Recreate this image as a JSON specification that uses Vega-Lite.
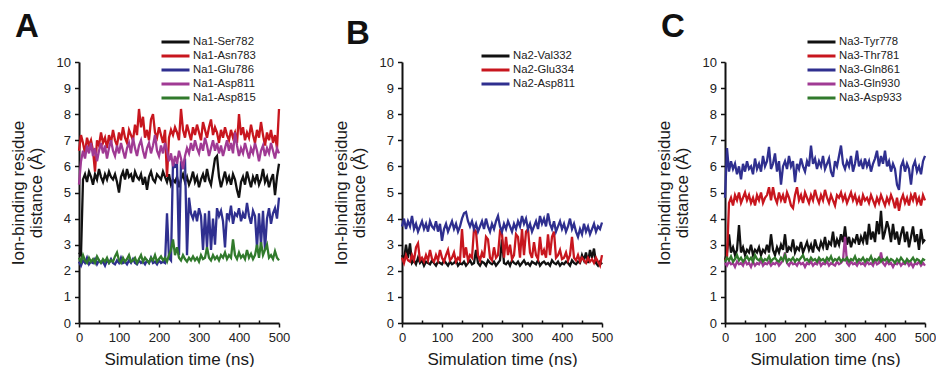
{
"$schema":"https://vega.github.io/schema/vega-lite/v6.json",
"background":"white",
"padding":{"left":9,"top":11,"right":0,"bottom":0},
"config":{"font":"Liberation Sans","view":{"stroke":null},
"axis":{"domainColor":"#111111","domainWidth":2,"tickColor":"#111111","tickWidth":1.5,"labelColor":"#222222","labelFont":"Liberation Sans","labelFontSize":13,"labelPadding":4,"titleFont":"Liberation Sans","titleFontSize":17,"titleFontWeight":"normal","titleColor":"#1a1a1a","grid":false},
"legend":{"orient":"none","title":null,"symbolType":"stroke","symbolSize":784,"symbolStrokeWidth":3,"labelFont":"Liberation Sans","labelFontSize":11.3,"labelColor":"#222222","labelOffset":2,"clipHeight":14,"rowPadding":0,"symbolOpacity":1}},
"datasets":{
"a1":[{"t":0,"d":2.7},{"t":5,"d":2.6},{"t":10,"d":5.5},{"t":15,"d":5.7},{"t":20,"d":5.4},{"t":25,"d":5.8},{"t":30,"d":5.6},{"t":35,"d":5.3},{"t":40,"d":5.7},{"t":45,"d":5.5},{"t":50,"d":5.9},{"t":55,"d":5.6},{"t":60,"d":5.4},{"t":65,"d":5.7},{"t":70,"d":5.5},{"t":75,"d":5.8},{"t":80,"d":5.6},{"t":85,"d":5.5},{"t":90,"d":5.7},{"t":95,"d":5.4},{"t":100,"d":5.0},{"t":105,"d":5.6},{"t":110,"d":5.8},{"t":115,"d":5.5},{"t":120,"d":5.9},{"t":125,"d":5.6},{"t":130,"d":5.7},{"t":135,"d":5.4},{"t":140,"d":5.8},{"t":145,"d":5.6},{"t":150,"d":5.5},{"t":155,"d":5.7},{"t":160,"d":5.3},{"t":165,"d":5.6},{"t":170,"d":5.1},{"t":175,"d":5.6},{"t":180,"d":5.8},{"t":185,"d":5.5},{"t":190,"d":5.4},{"t":195,"d":5.7},{"t":200,"d":5.6},{"t":205,"d":5.5},{"t":210,"d":5.8},{"t":215,"d":5.6},{"t":220,"d":5.4},{"t":225,"d":5.7},{"t":230,"d":5.3},{"t":235,"d":5.5},{"t":240,"d":5.4},{"t":245,"d":5.6},{"t":250,"d":5.2},{"t":255,"d":5.5},{"t":260,"d":5.7},{"t":265,"d":5.4},{"t":270,"d":5.6},{"t":275,"d":5.3},{"t":280,"d":5.5},{"t":285,"d":5.8},{"t":290,"d":5.4},{"t":295,"d":5.6},{"t":300,"d":5.2},{"t":305,"d":5.5},{"t":310,"d":5.7},{"t":315,"d":5.4},{"t":320,"d":5.9},{"t":325,"d":5.5},{"t":330,"d":5.3},{"t":335,"d":5.8},{"t":340,"d":6.3},{"t":345,"d":6.4},{"t":350,"d":5.6},{"t":355,"d":5.2},{"t":360,"d":5.5},{"t":365,"d":5.8},{"t":370,"d":5.4},{"t":375,"d":5.6},{"t":380,"d":5.3},{"t":385,"d":5.7},{"t":390,"d":5.5},{"t":395,"d":5.1},{"t":400,"d":4.8},{"t":405,"d":5.4},{"t":410,"d":5.6},{"t":415,"d":5.3},{"t":420,"d":5.8},{"t":425,"d":5.5},{"t":430,"d":5.2},{"t":435,"d":5.6},{"t":440,"d":5.4},{"t":445,"d":5.7},{"t":450,"d":5.3},{"t":455,"d":5.5},{"t":460,"d":5.9},{"t":465,"d":5.4},{"t":470,"d":5.6},{"t":475,"d":5.2},{"t":480,"d":5.5},{"t":485,"d":5.7},{"t":490,"d":4.9},{"t":495,"d":5.6},{"t":500,"d":6.1}],
"a2":[{"t":0,"d":6.6},{"t":5,"d":7.2},{"t":10,"d":6.9},{"t":15,"d":6.5},{"t":20,"d":7.1},{"t":25,"d":6.8},{"t":30,"d":7.0},{"t":35,"d":6.6},{"t":40,"d":5.8},{"t":45,"d":7.0},{"t":50,"d":6.8},{"t":55,"d":7.3},{"t":60,"d":6.9},{"t":65,"d":7.1},{"t":70,"d":6.7},{"t":75,"d":7.2},{"t":80,"d":6.9},{"t":85,"d":7.4},{"t":90,"d":7.0},{"t":95,"d":6.8},{"t":100,"d":7.3},{"t":105,"d":7.0},{"t":110,"d":7.5},{"t":115,"d":7.1},{"t":120,"d":6.9},{"t":125,"d":7.4},{"t":130,"d":7.2},{"t":135,"d":7.0},{"t":140,"d":7.6},{"t":145,"d":7.2},{"t":150,"d":8.2},{"t":155,"d":7.5},{"t":160,"d":7.9},{"t":165,"d":7.1},{"t":170,"d":7.4},{"t":175,"d":7.0},{"t":180,"d":7.8},{"t":185,"d":8.0},{"t":190,"d":7.3},{"t":195,"d":7.1},{"t":200,"d":7.5},{"t":205,"d":7.2},{"t":210,"d":6.9},{"t":215,"d":7.4},{"t":220,"d":5.6},{"t":225,"d":7.1},{"t":230,"d":7.4},{"t":235,"d":7.2},{"t":240,"d":7.5},{"t":245,"d":7.3},{"t":250,"d":7.0},{"t":255,"d":8.2},{"t":260,"d":7.4},{"t":265,"d":7.1},{"t":270,"d":7.6},{"t":275,"d":7.3},{"t":280,"d":7.0},{"t":285,"d":7.5},{"t":290,"d":7.2},{"t":295,"d":7.6},{"t":300,"d":7.3},{"t":305,"d":7.0},{"t":310,"d":7.7},{"t":315,"d":7.4},{"t":320,"d":7.1},{"t":325,"d":7.5},{"t":330,"d":7.8},{"t":335,"d":7.2},{"t":340,"d":7.5},{"t":345,"d":7.3},{"t":350,"d":6.9},{"t":355,"d":7.4},{"t":360,"d":7.1},{"t":365,"d":7.5},{"t":370,"d":7.2},{"t":375,"d":7.0},{"t":380,"d":7.4},{"t":385,"d":7.1},{"t":390,"d":7.3},{"t":395,"d":6.9},{"t":400,"d":8.0},{"t":405,"d":7.2},{"t":410,"d":7.5},{"t":415,"d":7.0},{"t":420,"d":7.3},{"t":425,"d":7.1},{"t":430,"d":7.6},{"t":435,"d":7.2},{"t":440,"d":6.9},{"t":445,"d":7.4},{"t":450,"d":7.1},{"t":455,"d":7.7},{"t":460,"d":7.2},{"t":465,"d":6.8},{"t":470,"d":7.3},{"t":475,"d":7.0},{"t":480,"d":7.4},{"t":485,"d":6.9},{"t":490,"d":7.2},{"t":495,"d":6.7},{"t":500,"d":8.2}],
"a3":[{"t":0,"d":2.35},{"t":5,"d":2.2},{"t":10,"d":2.4},{"t":15,"d":2.3},{"t":20,"d":2.5},{"t":25,"d":2.25},{"t":30,"d":2.35},{"t":35,"d":2.3},{"t":40,"d":2.45},{"t":45,"d":2.25},{"t":50,"d":2.4},{"t":55,"d":2.3},{"t":60,"d":2.35},{"t":65,"d":2.2},{"t":70,"d":2.4},{"t":75,"d":2.3},{"t":80,"d":2.45},{"t":85,"d":2.3},{"t":90,"d":2.25},{"t":95,"d":2.4},{"t":100,"d":2.3},{"t":105,"d":2.5},{"t":110,"d":2.3},{"t":115,"d":2.35},{"t":120,"d":2.25},{"t":125,"d":2.4},{"t":130,"d":2.3},{"t":135,"d":2.45},{"t":140,"d":2.3},{"t":145,"d":2.25},{"t":150,"d":2.4},{"t":155,"d":2.3},{"t":160,"d":2.35},{"t":165,"d":2.25},{"t":170,"d":2.4},{"t":175,"d":2.3},{"t":180,"d":2.5},{"t":185,"d":2.3},{"t":190,"d":2.35},{"t":195,"d":2.25},{"t":200,"d":2.4},{"t":205,"d":2.3},{"t":210,"d":2.35},{"t":215,"d":2.3},{"t":220,"d":4.2},{"t":225,"d":2.5},{"t":230,"d":2.4},{"t":235,"d":6.2},{"t":240,"d":6.0},{"t":245,"d":6.1},{"t":250,"d":2.6},{"t":255,"d":6.2},{"t":260,"d":5.9},{"t":265,"d":6.3},{"t":270,"d":2.6},{"t":275,"d":4.8},{"t":280,"d":4.2},{"t":285,"d":4.0},{"t":290,"d":4.3},{"t":295,"d":3.9},{"t":300,"d":4.4},{"t":305,"d":4.1},{"t":310,"d":2.8},{"t":315,"d":4.2},{"t":320,"d":2.9},{"t":325,"d":4.3},{"t":330,"d":2.8},{"t":335,"d":4.0},{"t":340,"d":3.0},{"t":345,"d":4.4},{"t":350,"d":4.1},{"t":355,"d":4.3},{"t":360,"d":3.9},{"t":365,"d":2.9},{"t":370,"d":4.2},{"t":375,"d":4.0},{"t":380,"d":4.5},{"t":385,"d":3.8},{"t":390,"d":4.2},{"t":395,"d":4.1},{"t":400,"d":4.4},{"t":405,"d":3.9},{"t":410,"d":4.2},{"t":415,"d":4.0},{"t":420,"d":4.6},{"t":425,"d":4.1},{"t":430,"d":3.8},{"t":435,"d":4.3},{"t":440,"d":4.1},{"t":445,"d":2.9},{"t":450,"d":4.2},{"t":455,"d":3.0},{"t":460,"d":4.3},{"t":465,"d":2.8},{"t":470,"d":4.0},{"t":475,"d":4.4},{"t":480,"d":3.8},{"t":485,"d":4.2},{"t":490,"d":4.4},{"t":495,"d":4.0},{"t":500,"d":4.8}],
"a4":[{"t":0,"d":5.3},{"t":5,"d":6.2},{"t":10,"d":6.6},{"t":15,"d":6.3},{"t":20,"d":6.8},{"t":25,"d":6.5},{"t":30,"d":6.9},{"t":35,"d":6.4},{"t":40,"d":6.7},{"t":45,"d":6.2},{"t":50,"d":6.6},{"t":55,"d":6.9},{"t":60,"d":6.5},{"t":65,"d":6.8},{"t":70,"d":6.3},{"t":75,"d":6.7},{"t":80,"d":7.0},{"t":85,"d":6.6},{"t":90,"d":6.4},{"t":95,"d":6.8},{"t":100,"d":6.5},{"t":105,"d":6.9},{"t":110,"d":6.6},{"t":115,"d":6.3},{"t":120,"d":6.7},{"t":125,"d":6.9},{"t":130,"d":6.5},{"t":135,"d":7.1},{"t":140,"d":6.7},{"t":145,"d":6.4},{"t":150,"d":6.8},{"t":155,"d":7.0},{"t":160,"d":6.6},{"t":165,"d":6.3},{"t":170,"d":6.7},{"t":175,"d":6.9},{"t":180,"d":6.5},{"t":185,"d":6.8},{"t":190,"d":7.2},{"t":195,"d":6.6},{"t":200,"d":6.4},{"t":205,"d":6.8},{"t":210,"d":6.5},{"t":215,"d":6.9},{"t":220,"d":6.6},{"t":225,"d":6.2},{"t":230,"d":6.5},{"t":235,"d":6.0},{"t":240,"d":6.4},{"t":245,"d":6.1},{"t":250,"d":6.6},{"t":255,"d":6.3},{"t":260,"d":5.9},{"t":265,"d":6.4},{"t":270,"d":6.7},{"t":275,"d":6.5},{"t":280,"d":6.9},{"t":285,"d":6.6},{"t":290,"d":7.0},{"t":295,"d":6.7},{"t":300,"d":6.5},{"t":305,"d":6.9},{"t":310,"d":6.6},{"t":315,"d":7.1},{"t":320,"d":6.8},{"t":325,"d":6.4},{"t":330,"d":6.7},{"t":335,"d":7.0},{"t":340,"d":6.6},{"t":345,"d":6.9},{"t":350,"d":6.5},{"t":355,"d":6.8},{"t":360,"d":6.4},{"t":365,"d":6.7},{"t":370,"d":7.0},{"t":375,"d":6.6},{"t":380,"d":6.9},{"t":385,"d":6.5},{"t":390,"d":7.3},{"t":395,"d":6.8},{"t":400,"d":6.4},{"t":405,"d":6.7},{"t":410,"d":6.5},{"t":415,"d":6.9},{"t":420,"d":6.6},{"t":425,"d":6.3},{"t":430,"d":6.7},{"t":435,"d":6.5},{"t":440,"d":6.9},{"t":445,"d":6.6},{"t":450,"d":6.2},{"t":455,"d":6.6},{"t":460,"d":6.8},{"t":465,"d":6.4},{"t":470,"d":6.7},{"t":475,"d":6.5},{"t":480,"d":6.9},{"t":485,"d":6.6},{"t":490,"d":6.3},{"t":495,"d":6.7},{"t":500,"d":6.5}],
"a5":[{"t":0,"d":2.5},{"t":5,"d":2.35},{"t":10,"d":2.6},{"t":15,"d":2.4},{"t":20,"d":2.3},{"t":25,"d":2.5},{"t":30,"d":2.35},{"t":35,"d":2.45},{"t":40,"d":2.3},{"t":45,"d":2.55},{"t":50,"d":2.4},{"t":55,"d":2.3},{"t":60,"d":2.45},{"t":65,"d":2.35},{"t":70,"d":2.5},{"t":75,"d":2.3},{"t":80,"d":2.4},{"t":85,"d":2.35},{"t":90,"d":2.55},{"t":95,"d":2.7},{"t":100,"d":2.4},{"t":105,"d":2.3},{"t":110,"d":2.5},{"t":115,"d":2.35},{"t":120,"d":2.45},{"t":125,"d":2.6},{"t":130,"d":2.35},{"t":135,"d":2.4},{"t":140,"d":2.5},{"t":145,"d":2.3},{"t":150,"d":2.45},{"t":155,"d":2.6},{"t":160,"d":2.35},{"t":165,"d":2.5},{"t":170,"d":2.4},{"t":175,"d":2.3},{"t":180,"d":2.5},{"t":185,"d":2.4},{"t":190,"d":2.6},{"t":195,"d":2.35},{"t":200,"d":2.45},{"t":205,"d":2.55},{"t":210,"d":2.4},{"t":215,"d":2.5},{"t":220,"d":2.35},{"t":225,"d":2.6},{"t":230,"d":2.8},{"t":235,"d":3.2},{"t":240,"d":2.6},{"t":245,"d":2.9},{"t":250,"d":2.5},{"t":255,"d":2.4},{"t":260,"d":2.6},{"t":265,"d":2.45},{"t":270,"d":2.35},{"t":275,"d":2.5},{"t":280,"d":2.4},{"t":285,"d":2.55},{"t":290,"d":2.4},{"t":295,"d":2.5},{"t":300,"d":2.35},{"t":305,"d":2.6},{"t":310,"d":2.45},{"t":315,"d":2.5},{"t":320,"d":2.9},{"t":325,"d":2.5},{"t":330,"d":2.4},{"t":335,"d":2.6},{"t":340,"d":2.45},{"t":345,"d":2.55},{"t":350,"d":2.4},{"t":355,"d":2.6},{"t":360,"d":2.5},{"t":365,"d":2.7},{"t":370,"d":2.45},{"t":375,"d":2.6},{"t":380,"d":2.5},{"t":385,"d":3.2},{"t":390,"d":2.6},{"t":395,"d":2.45},{"t":400,"d":2.7},{"t":405,"d":2.5},{"t":410,"d":2.6},{"t":415,"d":2.45},{"t":420,"d":2.8},{"t":425,"d":2.5},{"t":430,"d":2.65},{"t":435,"d":2.45},{"t":440,"d":2.6},{"t":445,"d":3.0},{"t":450,"d":2.5},{"t":455,"d":3.1},{"t":460,"d":2.6},{"t":465,"d":2.8},{"t":470,"d":3.0},{"t":475,"d":2.5},{"t":480,"d":2.6},{"t":485,"d":2.45},{"t":490,"d":2.75},{"t":495,"d":2.5},{"t":500,"d":2.4}],
"b1":[{"t":0,"d":2.6},{"t":5,"d":2.4},{"t":10,"d":3.0},{"t":15,"d":2.5},{"t":20,"d":3.05},{"t":25,"d":2.3},{"t":30,"d":2.4},{"t":35,"d":2.25},{"t":40,"d":2.5},{"t":45,"d":2.3},{"t":50,"d":2.4},{"t":55,"d":2.2},{"t":60,"d":2.35},{"t":65,"d":2.3},{"t":70,"d":2.25},{"t":75,"d":2.4},{"t":80,"d":2.3},{"t":85,"d":2.2},{"t":90,"d":2.35},{"t":95,"d":2.3},{"t":100,"d":2.25},{"t":105,"d":2.4},{"t":110,"d":2.3},{"t":115,"d":2.2},{"t":120,"d":2.35},{"t":125,"d":2.25},{"t":130,"d":2.3},{"t":135,"d":2.4},{"t":140,"d":2.2},{"t":145,"d":2.3},{"t":150,"d":2.25},{"t":155,"d":2.35},{"t":160,"d":2.2},{"t":165,"d":2.3},{"t":170,"d":2.4},{"t":175,"d":2.25},{"t":180,"d":2.3},{"t":185,"d":2.8},{"t":190,"d":2.3},{"t":195,"d":2.2},{"t":200,"d":2.35},{"t":205,"d":2.3},{"t":210,"d":2.2},{"t":215,"d":2.4},{"t":220,"d":2.3},{"t":225,"d":2.25},{"t":230,"d":2.35},{"t":235,"d":2.2},{"t":240,"d":2.3},{"t":245,"d":2.4},{"t":250,"d":3.2},{"t":255,"d":2.3},{"t":260,"d":2.25},{"t":265,"d":2.35},{"t":270,"d":2.2},{"t":275,"d":2.4},{"t":280,"d":2.3},{"t":285,"d":2.25},{"t":290,"d":2.35},{"t":295,"d":2.2},{"t":300,"d":2.3},{"t":305,"d":2.4},{"t":310,"d":2.25},{"t":315,"d":2.3},{"t":320,"d":2.2},{"t":325,"d":2.35},{"t":330,"d":2.3},{"t":335,"d":2.25},{"t":340,"d":2.4},{"t":345,"d":2.2},{"t":350,"d":2.3},{"t":355,"d":2.35},{"t":360,"d":2.25},{"t":365,"d":2.3},{"t":370,"d":2.2},{"t":375,"d":2.4},{"t":380,"d":2.3},{"t":385,"d":2.25},{"t":390,"d":2.35},{"t":395,"d":2.2},{"t":400,"d":2.3},{"t":405,"d":2.25},{"t":410,"d":2.35},{"t":415,"d":2.3},{"t":420,"d":2.2},{"t":425,"d":2.4},{"t":430,"d":2.3},{"t":435,"d":2.25},{"t":440,"d":2.35},{"t":445,"d":2.3},{"t":450,"d":2.6},{"t":455,"d":2.4},{"t":460,"d":2.7},{"t":465,"d":2.3},{"t":470,"d":2.8},{"t":475,"d":2.5},{"t":480,"d":2.85},{"t":485,"d":2.3},{"t":490,"d":2.2},{"t":495,"d":2.35},{"t":500,"d":2.25}],
"b2":[{"t":0,"d":2.5},{"t":5,"d":2.3},{"t":10,"d":2.6},{"t":15,"d":2.4},{"t":20,"d":2.35},{"t":25,"d":2.6},{"t":30,"d":2.4},{"t":35,"d":2.9},{"t":40,"d":3.05},{"t":45,"d":2.4},{"t":50,"d":2.5},{"t":55,"d":2.35},{"t":60,"d":2.6},{"t":65,"d":2.4},{"t":70,"d":2.8},{"t":75,"d":2.45},{"t":80,"d":2.35},{"t":85,"d":2.6},{"t":90,"d":2.4},{"t":95,"d":2.8},{"t":100,"d":2.5},{"t":105,"d":2.35},{"t":110,"d":2.6},{"t":115,"d":2.8},{"t":120,"d":2.4},{"t":125,"d":2.5},{"t":130,"d":2.7},{"t":135,"d":2.35},{"t":140,"d":2.5},{"t":145,"d":2.4},{"t":150,"d":3.6},{"t":155,"d":2.5},{"t":160,"d":2.9},{"t":165,"d":2.4},{"t":170,"d":2.6},{"t":175,"d":2.5},{"t":180,"d":3.6},{"t":185,"d":3.5},{"t":190,"d":2.6},{"t":195,"d":2.4},{"t":200,"d":2.7},{"t":205,"d":2.5},{"t":210,"d":3.3},{"t":215,"d":3.2},{"t":220,"d":2.5},{"t":225,"d":2.4},{"t":230,"d":2.9},{"t":235,"d":2.5},{"t":240,"d":2.6},{"t":245,"d":3.5},{"t":250,"d":3.4},{"t":255,"d":2.5},{"t":260,"d":3.3},{"t":265,"d":2.6},{"t":270,"d":3.0},{"t":275,"d":2.45},{"t":280,"d":2.6},{"t":285,"d":3.4},{"t":290,"d":3.3},{"t":295,"d":2.5},{"t":300,"d":3.6},{"t":305,"d":2.6},{"t":310,"d":3.5},{"t":315,"d":3.6},{"t":320,"d":2.7},{"t":325,"d":2.5},{"t":330,"d":3.1},{"t":335,"d":2.6},{"t":340,"d":2.45},{"t":345,"d":3.3},{"t":350,"d":2.6},{"t":355,"d":2.8},{"t":360,"d":2.5},{"t":365,"d":3.4},{"t":370,"d":2.6},{"t":375,"d":3.3},{"t":380,"d":3.5},{"t":385,"d":2.5},{"t":390,"d":2.6},{"t":395,"d":2.8},{"t":400,"d":2.45},{"t":405,"d":2.5},{"t":410,"d":2.7},{"t":415,"d":2.4},{"t":420,"d":2.6},{"t":425,"d":3.3},{"t":430,"d":2.5},{"t":435,"d":2.4},{"t":440,"d":2.6},{"t":445,"d":2.35},{"t":450,"d":2.5},{"t":455,"d":2.4},{"t":460,"d":2.3},{"t":465,"d":2.5},{"t":470,"d":2.35},{"t":475,"d":2.45},{"t":480,"d":2.3},{"t":485,"d":2.5},{"t":490,"d":2.35},{"t":495,"d":2.2},{"t":500,"d":2.6}],
"b3":[{"t":0,"d":3.7},{"t":5,"d":4.0},{"t":10,"d":3.6},{"t":15,"d":3.9},{"t":20,"d":3.7},{"t":25,"d":4.1},{"t":30,"d":3.6},{"t":35,"d":3.8},{"t":40,"d":3.5},{"t":45,"d":3.7},{"t":50,"d":3.9},{"t":55,"d":3.6},{"t":60,"d":3.8},{"t":65,"d":3.5},{"t":70,"d":3.9},{"t":75,"d":3.7},{"t":80,"d":3.6},{"t":85,"d":3.9},{"t":90,"d":3.5},{"t":95,"d":3.8},{"t":100,"d":3.15},{"t":105,"d":3.6},{"t":110,"d":3.8},{"t":115,"d":3.5},{"t":120,"d":3.7},{"t":125,"d":3.9},{"t":130,"d":3.6},{"t":135,"d":3.8},{"t":140,"d":3.5},{"t":145,"d":3.7},{"t":150,"d":4.0},{"t":155,"d":4.2},{"t":160,"d":4.25},{"t":165,"d":3.9},{"t":170,"d":3.7},{"t":175,"d":3.9},{"t":180,"d":3.6},{"t":185,"d":3.8},{"t":190,"d":3.5},{"t":195,"d":3.7},{"t":200,"d":3.9},{"t":205,"d":3.6},{"t":210,"d":4.0},{"t":215,"d":3.7},{"t":220,"d":3.5},{"t":225,"d":3.8},{"t":230,"d":3.6},{"t":235,"d":3.9},{"t":240,"d":4.1},{"t":245,"d":3.7},{"t":250,"d":3.5},{"t":255,"d":3.8},{"t":260,"d":3.6},{"t":265,"d":3.9},{"t":270,"d":3.7},{"t":275,"d":3.5},{"t":280,"d":3.8},{"t":285,"d":3.6},{"t":290,"d":3.9},{"t":295,"d":3.7},{"t":300,"d":4.1},{"t":305,"d":3.8},{"t":310,"d":4.0},{"t":315,"d":3.6},{"t":320,"d":3.8},{"t":325,"d":3.5},{"t":330,"d":3.7},{"t":335,"d":3.9},{"t":340,"d":3.6},{"t":345,"d":4.1},{"t":350,"d":3.8},{"t":355,"d":4.0},{"t":360,"d":3.7},{"t":365,"d":4.2},{"t":370,"d":3.8},{"t":375,"d":3.6},{"t":380,"d":3.9},{"t":385,"d":3.5},{"t":390,"d":3.7},{"t":395,"d":3.9},{"t":400,"d":3.6},{"t":405,"d":3.8},{"t":410,"d":3.5},{"t":415,"d":3.7},{"t":420,"d":4.0},{"t":425,"d":3.6},{"t":430,"d":3.8},{"t":435,"d":3.5},{"t":440,"d":3.3},{"t":445,"d":3.6},{"t":450,"d":3.4},{"t":455,"d":3.8},{"t":460,"d":3.5},{"t":465,"d":3.7},{"t":470,"d":3.4},{"t":475,"d":3.6},{"t":480,"d":3.8},{"t":485,"d":3.5},{"t":490,"d":3.7},{"t":495,"d":3.6},{"t":500,"d":3.85}],
"c1":[{"t":0,"d":2.4},{"t":5,"d":2.7},{"t":10,"d":3.4},{"t":15,"d":2.7},{"t":20,"d":2.9},{"t":25,"d":2.6},{"t":30,"d":2.8},{"t":35,"d":3.75},{"t":40,"d":2.7},{"t":45,"d":2.9},{"t":50,"d":2.6},{"t":55,"d":2.8},{"t":60,"d":2.7},{"t":65,"d":3.0},{"t":70,"d":2.6},{"t":75,"d":2.8},{"t":80,"d":2.7},{"t":85,"d":2.9},{"t":90,"d":2.6},{"t":95,"d":2.8},{"t":100,"d":2.7},{"t":105,"d":3.0},{"t":110,"d":2.7},{"t":115,"d":3.4},{"t":120,"d":2.8},{"t":125,"d":2.6},{"t":130,"d":2.9},{"t":135,"d":2.7},{"t":140,"d":3.0},{"t":145,"d":2.8},{"t":150,"d":3.4},{"t":155,"d":2.7},{"t":160,"d":2.9},{"t":165,"d":2.8},{"t":170,"d":3.2},{"t":175,"d":2.7},{"t":180,"d":2.9},{"t":185,"d":2.8},{"t":190,"d":3.1},{"t":195,"d":2.7},{"t":200,"d":2.9},{"t":205,"d":3.1},{"t":210,"d":2.8},{"t":215,"d":3.0},{"t":220,"d":2.7},{"t":225,"d":3.2},{"t":230,"d":2.9},{"t":235,"d":2.8},{"t":240,"d":3.1},{"t":245,"d":2.9},{"t":250,"d":3.3},{"t":255,"d":2.8},{"t":260,"d":3.1},{"t":265,"d":3.0},{"t":270,"d":3.5},{"t":275,"d":2.9},{"t":280,"d":3.2},{"t":285,"d":3.0},{"t":290,"d":3.4},{"t":295,"d":3.1},{"t":300,"d":3.7},{"t":305,"d":3.0},{"t":310,"d":3.3},{"t":315,"d":2.9},{"t":320,"d":3.2},{"t":325,"d":3.1},{"t":330,"d":3.4},{"t":335,"d":3.0},{"t":340,"d":3.3},{"t":345,"d":3.1},{"t":350,"d":3.5},{"t":355,"d":3.0},{"t":360,"d":3.8},{"t":365,"d":3.2},{"t":370,"d":3.5},{"t":375,"d":3.1},{"t":380,"d":3.9},{"t":385,"d":3.4},{"t":390,"d":4.3},{"t":395,"d":3.2},{"t":400,"d":3.5},{"t":405,"d":3.9},{"t":410,"d":3.6},{"t":415,"d":3.1},{"t":420,"d":3.8},{"t":425,"d":3.2},{"t":430,"d":3.5},{"t":435,"d":3.0},{"t":440,"d":3.4},{"t":445,"d":3.7},{"t":450,"d":3.1},{"t":455,"d":3.5},{"t":460,"d":2.9},{"t":465,"d":3.3},{"t":470,"d":3.7},{"t":475,"d":3.1},{"t":480,"d":3.4},{"t":485,"d":2.8},{"t":490,"d":3.6},{"t":495,"d":3.1},{"t":500,"d":3.2}],
"c2":[{"t":0,"d":2.4},{"t":5,"d":2.5},{"t":10,"d":4.6},{"t":15,"d":4.8},{"t":20,"d":4.5},{"t":25,"d":4.9},{"t":30,"d":4.7},{"t":35,"d":5.0},{"t":40,"d":4.6},{"t":45,"d":4.8},{"t":50,"d":5.0},{"t":55,"d":4.7},{"t":60,"d":4.9},{"t":65,"d":4.6},{"t":70,"d":4.8},{"t":75,"d":4.5},{"t":80,"d":4.9},{"t":85,"d":4.7},{"t":90,"d":5.0},{"t":95,"d":4.6},{"t":100,"d":4.8},{"t":105,"d":4.9},{"t":110,"d":5.2},{"t":115,"d":4.7},{"t":120,"d":5.2},{"t":125,"d":4.8},{"t":130,"d":4.6},{"t":135,"d":5.0},{"t":140,"d":4.7},{"t":145,"d":4.9},{"t":150,"d":4.6},{"t":155,"d":5.0},{"t":160,"d":4.8},{"t":165,"d":4.5},{"t":170,"d":4.4},{"t":175,"d":4.9},{"t":180,"d":5.2},{"t":185,"d":4.7},{"t":190,"d":4.9},{"t":195,"d":4.6},{"t":200,"d":5.0},{"t":205,"d":4.8},{"t":210,"d":4.6},{"t":215,"d":4.9},{"t":220,"d":4.7},{"t":225,"d":5.1},{"t":230,"d":4.8},{"t":235,"d":4.6},{"t":240,"d":4.9},{"t":245,"d":4.7},{"t":250,"d":5.1},{"t":255,"d":4.8},{"t":260,"d":4.6},{"t":265,"d":4.9},{"t":270,"d":4.7},{"t":275,"d":4.5},{"t":280,"d":4.9},{"t":285,"d":4.8},{"t":290,"d":5.0},{"t":295,"d":4.7},{"t":300,"d":4.9},{"t":305,"d":4.6},{"t":310,"d":4.8},{"t":315,"d":5.0},{"t":320,"d":4.7},{"t":325,"d":4.9},{"t":330,"d":4.6},{"t":335,"d":4.8},{"t":340,"d":4.5},{"t":345,"d":4.9},{"t":350,"d":4.7},{"t":355,"d":4.8},{"t":360,"d":4.6},{"t":365,"d":4.9},{"t":370,"d":4.7},{"t":375,"d":4.5},{"t":380,"d":4.8},{"t":385,"d":4.6},{"t":390,"d":4.9},{"t":395,"d":4.7},{"t":400,"d":4.5},{"t":405,"d":4.8},{"t":410,"d":4.6},{"t":415,"d":4.9},{"t":420,"d":4.7},{"t":425,"d":4.4},{"t":430,"d":4.8},{"t":435,"d":4.3},{"t":440,"d":4.7},{"t":445,"d":4.9},{"t":450,"d":4.6},{"t":455,"d":4.8},{"t":460,"d":4.5},{"t":465,"d":4.9},{"t":470,"d":4.7},{"t":475,"d":5.0},{"t":480,"d":4.6},{"t":485,"d":4.8},{"t":490,"d":4.5},{"t":495,"d":4.9},{"t":500,"d":4.7}],
"c3":[{"t":0,"d":4.8},{"t":5,"d":6.7},{"t":10,"d":5.8},{"t":15,"d":6.2},{"t":20,"d":5.9},{"t":25,"d":6.1},{"t":30,"d":5.7},{"t":35,"d":6.0},{"t":40,"d":5.5},{"t":45,"d":6.1},{"t":50,"d":5.8},{"t":55,"d":6.2},{"t":60,"d":5.9},{"t":65,"d":6.0},{"t":70,"d":5.7},{"t":75,"d":6.3},{"t":80,"d":5.9},{"t":85,"d":6.1},{"t":90,"d":5.8},{"t":95,"d":6.4},{"t":100,"d":6.0},{"t":105,"d":6.2},{"t":110,"d":6.75},{"t":115,"d":5.9},{"t":120,"d":6.1},{"t":125,"d":6.5},{"t":130,"d":5.8},{"t":135,"d":6.2},{"t":140,"d":5.3},{"t":145,"d":6.0},{"t":150,"d":6.2},{"t":155,"d":5.9},{"t":160,"d":6.4},{"t":165,"d":6.0},{"t":170,"d":6.2},{"t":175,"d":5.4},{"t":180,"d":6.1},{"t":185,"d":5.9},{"t":190,"d":6.3},{"t":195,"d":6.0},{"t":200,"d":5.8},{"t":205,"d":6.2},{"t":210,"d":6.0},{"t":215,"d":6.8},{"t":220,"d":6.1},{"t":225,"d":6.3},{"t":230,"d":5.9},{"t":235,"d":6.2},{"t":240,"d":6.0},{"t":245,"d":6.4},{"t":250,"d":5.9},{"t":255,"d":6.1},{"t":260,"d":6.3},{"t":265,"d":5.8},{"t":270,"d":5.6},{"t":275,"d":6.2},{"t":280,"d":6.0},{"t":285,"d":6.4},{"t":290,"d":6.8},{"t":295,"d":6.1},{"t":300,"d":5.9},{"t":305,"d":6.2},{"t":310,"d":6.0},{"t":315,"d":6.4},{"t":320,"d":5.8},{"t":325,"d":6.1},{"t":330,"d":6.6},{"t":335,"d":6.0},{"t":340,"d":6.2},{"t":345,"d":5.9},{"t":350,"d":6.3},{"t":355,"d":6.0},{"t":360,"d":6.2},{"t":365,"d":5.8},{"t":370,"d":6.1},{"t":375,"d":6.3},{"t":380,"d":6.6},{"t":385,"d":6.0},{"t":390,"d":6.4},{"t":395,"d":6.1},{"t":400,"d":6.6},{"t":405,"d":6.0},{"t":410,"d":6.2},{"t":415,"d":5.8},{"t":420,"d":6.1},{"t":425,"d":5.9},{"t":430,"d":5.3},{"t":435,"d":5.1},{"t":440,"d":6.0},{"t":445,"d":6.2},{"t":450,"d":5.8},{"t":455,"d":6.1},{"t":460,"d":5.9},{"t":465,"d":5.3},{"t":470,"d":6.0},{"t":475,"d":6.2},{"t":480,"d":5.8},{"t":485,"d":6.0},{"t":490,"d":5.7},{"t":495,"d":6.2},{"t":500,"d":6.4}],
"c4":[{"t":0,"d":2.3},{"t":5,"d":2.2},{"t":10,"d":2.35},{"t":15,"d":2.25},{"t":20,"d":2.3},{"t":25,"d":2.15},{"t":30,"d":2.35},{"t":35,"d":2.25},{"t":40,"d":2.3},{"t":45,"d":2.2},{"t":50,"d":2.4},{"t":55,"d":2.25},{"t":60,"d":2.3},{"t":65,"d":2.15},{"t":70,"d":2.35},{"t":75,"d":2.2},{"t":80,"d":2.3},{"t":85,"d":2.25},{"t":90,"d":2.4},{"t":95,"d":2.2},{"t":100,"d":2.3},{"t":105,"d":2.25},{"t":110,"d":2.35},{"t":115,"d":2.2},{"t":120,"d":2.3},{"t":125,"d":2.25},{"t":130,"d":2.35},{"t":135,"d":2.2},{"t":140,"d":2.3},{"t":145,"d":2.4},{"t":150,"d":2.7},{"t":155,"d":2.3},{"t":160,"d":2.2},{"t":165,"d":2.35},{"t":170,"d":2.25},{"t":175,"d":2.3},{"t":180,"d":2.2},{"t":185,"d":2.35},{"t":190,"d":2.25},{"t":195,"d":2.3},{"t":200,"d":2.15},{"t":205,"d":2.3},{"t":210,"d":2.25},{"t":215,"d":2.35},{"t":220,"d":2.2},{"t":225,"d":2.3},{"t":230,"d":2.25},{"t":235,"d":2.4},{"t":240,"d":2.2},{"t":245,"d":2.3},{"t":250,"d":2.25},{"t":255,"d":2.35},{"t":260,"d":2.2},{"t":265,"d":2.3},{"t":270,"d":2.25},{"t":275,"d":2.2},{"t":280,"d":2.35},{"t":285,"d":2.25},{"t":290,"d":2.3},{"t":295,"d":2.4},{"t":300,"d":3.3},{"t":305,"d":2.3},{"t":310,"d":2.2},{"t":315,"d":2.35},{"t":320,"d":2.25},{"t":325,"d":2.3},{"t":330,"d":2.2},{"t":335,"d":2.35},{"t":340,"d":2.25},{"t":345,"d":2.3},{"t":350,"d":2.2},{"t":355,"d":2.35},{"t":360,"d":2.25},{"t":365,"d":2.3},{"t":370,"d":2.2},{"t":375,"d":2.4},{"t":380,"d":2.25},{"t":385,"d":2.3},{"t":390,"d":2.7},{"t":395,"d":2.3},{"t":400,"d":2.2},{"t":405,"d":2.35},{"t":410,"d":2.25},{"t":415,"d":2.3},{"t":420,"d":2.15},{"t":425,"d":2.3},{"t":430,"d":2.25},{"t":435,"d":2.35},{"t":440,"d":2.2},{"t":445,"d":2.3},{"t":450,"d":2.25},{"t":455,"d":2.35},{"t":460,"d":2.2},{"t":465,"d":2.3},{"t":470,"d":2.15},{"t":475,"d":2.3},{"t":480,"d":2.25},{"t":485,"d":2.35},{"t":490,"d":2.2},{"t":495,"d":2.3},{"t":500,"d":2.2}],
"c5":[{"t":0,"d":2.35},{"t":5,"d":2.5},{"t":10,"d":2.4},{"t":15,"d":2.55},{"t":20,"d":2.35},{"t":25,"d":2.45},{"t":30,"d":2.6},{"t":35,"d":2.4},{"t":40,"d":2.5},{"t":45,"d":2.35},{"t":50,"d":2.45},{"t":55,"d":2.55},{"t":60,"d":2.4},{"t":65,"d":2.5},{"t":70,"d":2.35},{"t":75,"d":2.6},{"t":80,"d":2.45},{"t":85,"d":2.4},{"t":90,"d":2.5},{"t":95,"d":2.35},{"t":100,"d":2.45},{"t":105,"d":2.4},{"t":110,"d":2.55},{"t":115,"d":2.35},{"t":120,"d":2.45},{"t":125,"d":2.5},{"t":130,"d":2.4},{"t":135,"d":2.35},{"t":140,"d":2.5},{"t":145,"d":2.4},{"t":150,"d":2.6},{"t":155,"d":2.35},{"t":160,"d":2.45},{"t":165,"d":2.4},{"t":170,"d":2.5},{"t":175,"d":2.35},{"t":180,"d":2.45},{"t":185,"d":2.4},{"t":190,"d":2.5},{"t":195,"d":2.6},{"t":200,"d":2.4},{"t":205,"d":2.45},{"t":210,"d":2.35},{"t":215,"d":2.5},{"t":220,"d":2.4},{"t":225,"d":2.45},{"t":230,"d":2.35},{"t":235,"d":2.5},{"t":240,"d":2.4},{"t":245,"d":2.45},{"t":250,"d":2.35},{"t":255,"d":2.5},{"t":260,"d":2.4},{"t":265,"d":2.55},{"t":270,"d":2.35},{"t":275,"d":2.45},{"t":280,"d":2.4},{"t":285,"d":2.5},{"t":290,"d":2.35},{"t":295,"d":2.45},{"t":300,"d":2.4},{"t":305,"d":2.5},{"t":310,"d":2.35},{"t":315,"d":2.45},{"t":320,"d":2.4},{"t":325,"d":2.55},{"t":330,"d":2.35},{"t":335,"d":2.45},{"t":340,"d":2.4},{"t":345,"d":2.5},{"t":350,"d":2.35},{"t":355,"d":2.45},{"t":360,"d":2.4},{"t":365,"d":2.55},{"t":370,"d":2.35},{"t":375,"d":2.45},{"t":380,"d":2.4},{"t":385,"d":2.5},{"t":390,"d":2.35},{"t":395,"d":2.45},{"t":400,"d":2.4},{"t":405,"d":2.5},{"t":410,"d":2.35},{"t":415,"d":2.45},{"t":420,"d":2.4},{"t":425,"d":2.3},{"t":430,"d":2.45},{"t":435,"d":2.35},{"t":440,"d":2.5},{"t":445,"d":2.4},{"t":450,"d":2.3},{"t":455,"d":2.45},{"t":460,"d":2.35},{"t":465,"d":2.4},{"t":470,"d":2.5},{"t":475,"d":2.35},{"t":480,"d":2.45},{"t":485,"d":2.4},{"t":490,"d":2.3},{"t":495,"d":2.45},{"t":500,"d":2.4}]
},
"spacing":42,
"resolve":{"scale":{"color":"independent"}},
"hconcat":[
{"width":200,"height":261,
"title":{"text":"A","anchor":"start","frame":"bounds","fontSize":33,"fontWeight":"bold","font":"Liberation Sans","color":"#111111","baseline":"alphabetic","offset":-35,"dx":6},
"encoding":{
"x":{"field":"t","type":"quantitative","scale":{"domain":[0,500],"nice":false},"axis":{"title":"Simulation time (ns)","values":[0,50,100,150,200,250,300,350,400,450,500],"labelExpr":"datum.value % 100 === 0 ? datum.label : ''","tickSize":{"condition":{"test":"datum.value % 100 !== 0","value":-3},"value":4},"labelFlush":false,"labelOverlap":false,"titlePadding":7}},
"y":{"field":"d","type":"quantitative","scale":{"domain":[0,10],"nice":false},"axis":{"title":["Ion-binding residue","distance (Å)"],"values":[0,0.5,1,1.5,2,2.5,3,3.5,4,4.5,5,5.5,6,6.5,7,7.5,8,8.5,9,9.5,10],"format":"d","labelExpr":"datum.value % 1 === 0 ? datum.label : ''","tickSize":{"condition":{"test":"datum.value % 1 !== 0","value":2.5},"value":4.5},"labelFlush":false,"labelOverlap":false,"titlePadding":11,"titleLineHeight":18}}},
"layer":[
{"data":{"name":"a1"},"mark":{"type":"line","strokeWidth":2.3},"encoding":{"color":{"datum":"Na1-Ser782","type":"nominal","scale":{"domain":["Na1-Ser782","Na1-Asn783","Na1-Glu786","Na1-Asp811","Na1-Asp815"],"range":["#111111","#c8161e","#2f2f8f","#a03a94","#317a2c"]},"legend":{"legendX":81,"legendY":-27}}}},
{"data":{"name":"a2"},"mark":{"type":"line","strokeWidth":2.3},"encoding":{"color":{"datum":"Na1-Asn783","type":"nominal"}}},
{"data":{"name":"a3"},"mark":{"type":"line","strokeWidth":2.3},"encoding":{"color":{"datum":"Na1-Glu786","type":"nominal"}}},
{"data":{"name":"a4"},"mark":{"type":"line","strokeWidth":2.3},"encoding":{"color":{"datum":"Na1-Asp811","type":"nominal"}}},
{"data":{"name":"a5"},"mark":{"type":"line","strokeWidth":2.3},"encoding":{"color":{"datum":"Na1-Asp815","type":"nominal"}}}
]},
{"width":200,"height":261,
"title":{"text":"B","anchor":"start","frame":"bounds","fontSize":33,"fontWeight":"bold","font":"Liberation Sans","color":"#111111","baseline":"alphabetic","offset":-28,"dx":14},
"encoding":{
"x":{"field":"t","type":"quantitative","scale":{"domain":[0,500],"nice":false},"axis":{"title":"Simulation time (ns)","values":[0,50,100,150,200,250,300,350,400,450,500],"labelExpr":"datum.value % 100 === 0 ? datum.label : ''","tickSize":{"condition":{"test":"datum.value % 100 !== 0","value":-3},"value":4},"labelFlush":false,"labelOverlap":false,"titlePadding":7}},
"y":{"field":"d","type":"quantitative","scale":{"domain":[0,10],"nice":false},"axis":{"title":["Ion-binding residue","distance (Å)"],"values":[0,0.5,1,1.5,2,2.5,3,3.5,4,4.5,5,5.5,6,6.5,7,7.5,8,8.5,9,9.5,10],"format":"d","labelExpr":"datum.value % 1 === 0 ? datum.label : ''","tickSize":{"condition":{"test":"datum.value % 1 !== 0","value":2.5},"value":4.5},"labelFlush":false,"labelOverlap":false,"titlePadding":11,"titleLineHeight":18}}},
"layer":[
{"data":{"name":"b1"},"mark":{"type":"line","strokeWidth":2.3},"encoding":{"color":{"datum":"Na2-Val332","type":"nominal","scale":{"domain":["Na2-Val332","Na2-Glu334","Na2-Asp811"],"range":["#111111","#c8161e","#2f2f8f"]},"legend":{"legendX":78,"legendY":-13}}}},
{"data":{"name":"b2"},"mark":{"type":"line","strokeWidth":2.3},"encoding":{"color":{"datum":"Na2-Glu334","type":"nominal"}}},
{"data":{"name":"b3"},"mark":{"type":"line","strokeWidth":2.3},"encoding":{"color":{"datum":"Na2-Asp811","type":"nominal"}}}
]},
{"width":200,"height":261,
"title":{"text":"C","anchor":"start","frame":"bounds","fontSize":33,"fontWeight":"bold","font":"Liberation Sans","color":"#111111","baseline":"alphabetic","offset":-35,"dx":6},
"encoding":{
"x":{"field":"t","type":"quantitative","scale":{"domain":[0,500],"nice":false},"axis":{"title":"Simulation time (ns)","values":[0,50,100,150,200,250,300,350,400,450,500],"labelExpr":"datum.value % 100 === 0 ? datum.label : ''","tickSize":{"condition":{"test":"datum.value % 100 !== 0","value":-3},"value":4},"labelFlush":false,"labelOverlap":false,"titlePadding":7}},
"y":{"field":"d","type":"quantitative","scale":{"domain":[0,10],"nice":false},"axis":{"title":["Ion-binding residue","distance (Å)"],"values":[0,0.5,1,1.5,2,2.5,3,3.5,4,4.5,5,5.5,6,6.5,7,7.5,8,8.5,9,9.5,10],"format":"d","labelExpr":"datum.value % 1 === 0 ? datum.label : ''","tickSize":{"condition":{"test":"datum.value % 1 !== 0","value":2.5},"value":4.5},"labelFlush":false,"labelOverlap":false,"titlePadding":11,"titleLineHeight":18}}},
"layer":[
{"data":{"name":"c1"},"mark":{"type":"line","strokeWidth":2.3},"encoding":{"color":{"datum":"Na3-Tyr778","type":"nominal","scale":{"domain":["Na3-Tyr778","Na3-Thr781","Na3-Gln861","Na3-Gln930","Na3-Asp933"],"range":["#111111","#c8161e","#2f2f8f","#a03a94","#317a2c"]},"legend":{"legendX":81,"legendY":-27}}}},
{"data":{"name":"c2"},"mark":{"type":"line","strokeWidth":2.3},"encoding":{"color":{"datum":"Na3-Thr781","type":"nominal"}}},
{"data":{"name":"c3"},"mark":{"type":"line","strokeWidth":2.3},"encoding":{"color":{"datum":"Na3-Gln861","type":"nominal"}}},
{"data":{"name":"c4"},"mark":{"type":"line","strokeWidth":2.3},"encoding":{"color":{"datum":"Na3-Gln930","type":"nominal"}}},
{"data":{"name":"c5"},"mark":{"type":"line","strokeWidth":2.3},"encoding":{"color":{"datum":"Na3-Asp933","type":"nominal"}}}
]}
]
}
